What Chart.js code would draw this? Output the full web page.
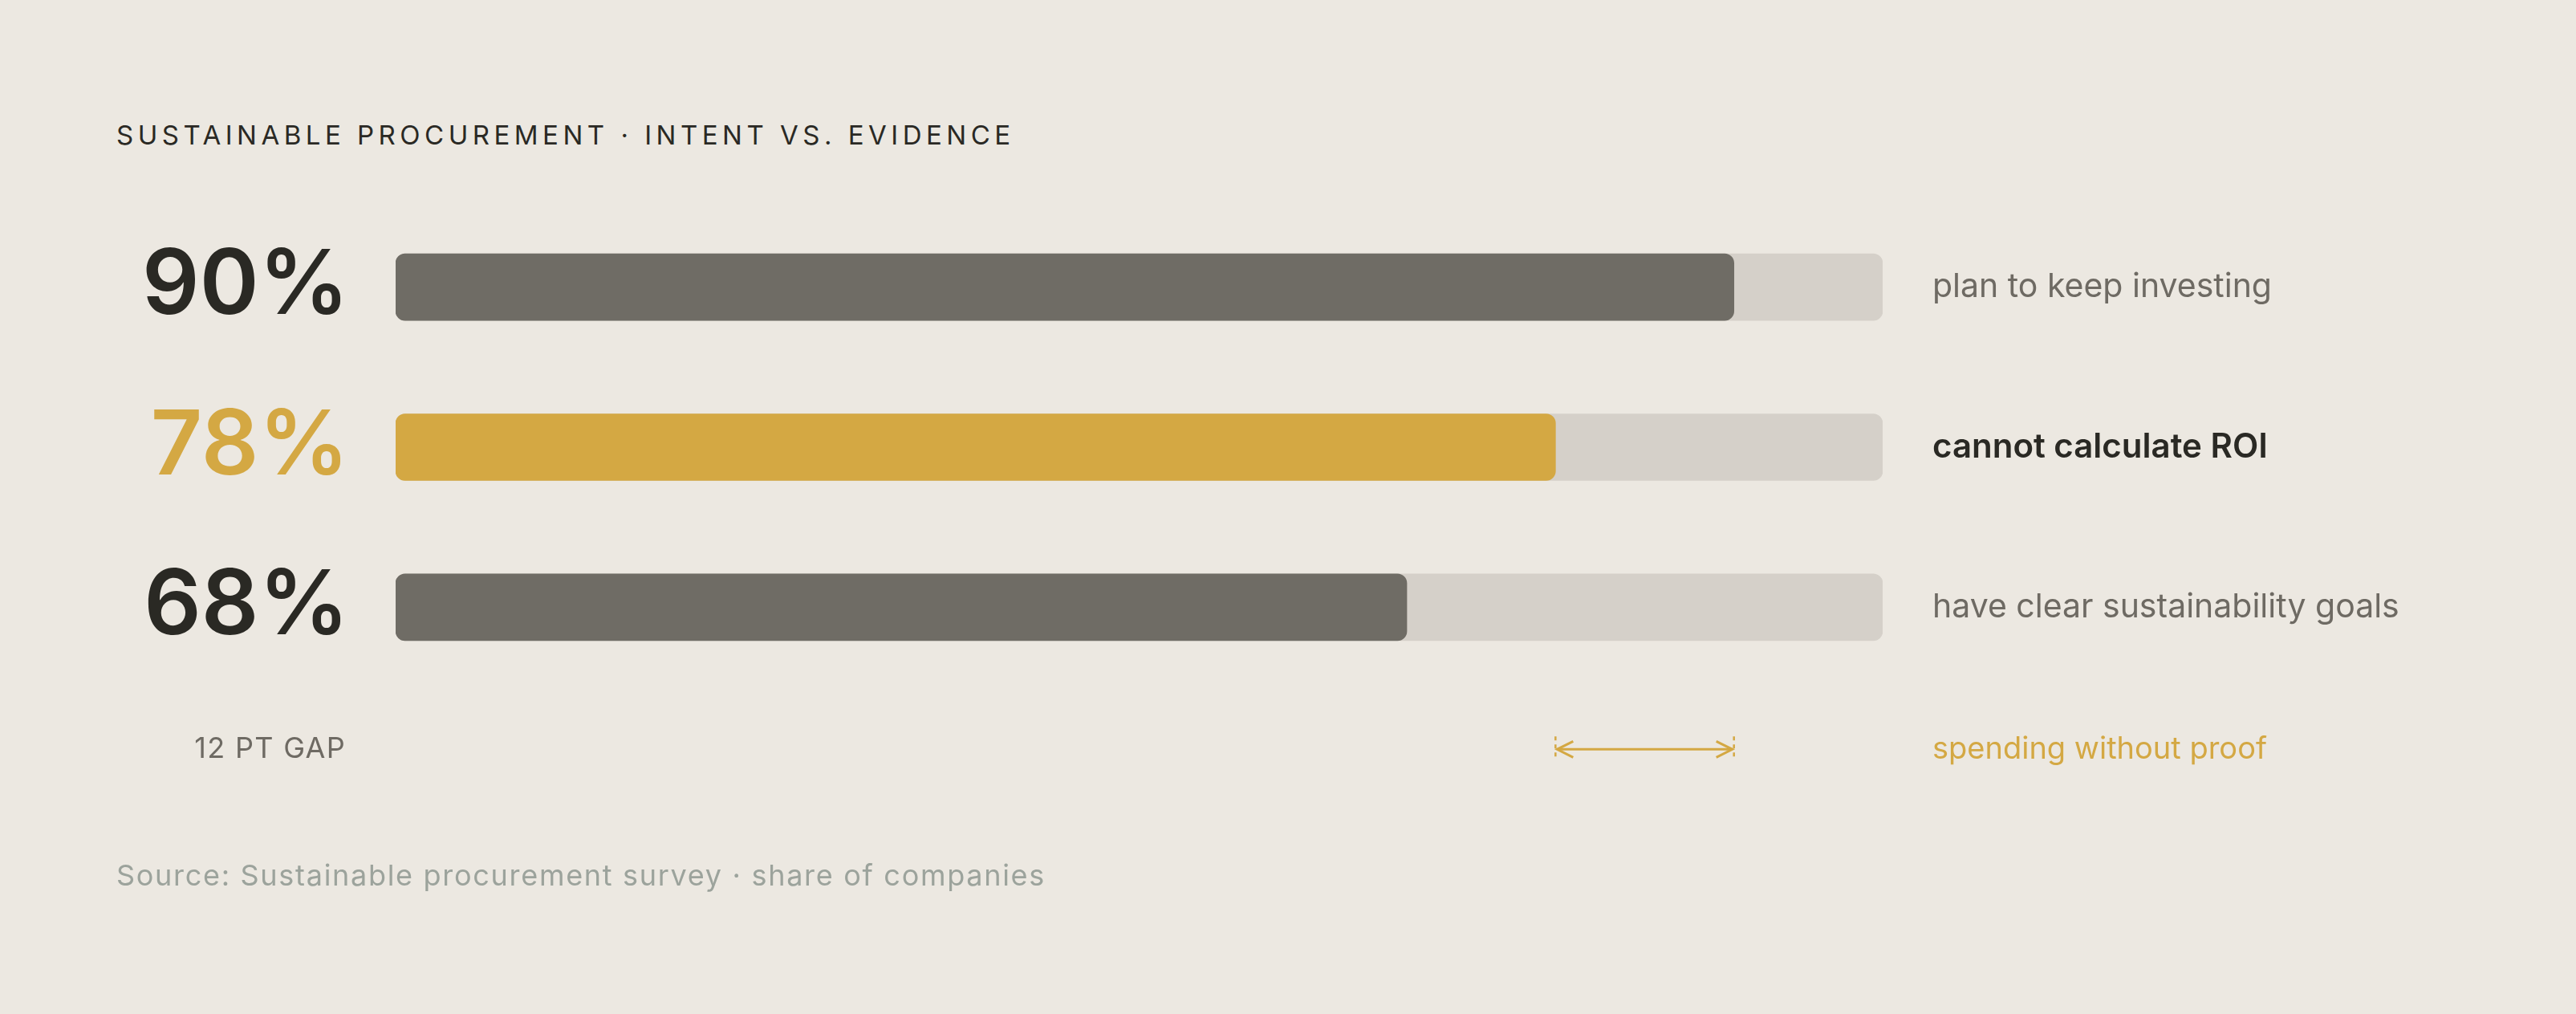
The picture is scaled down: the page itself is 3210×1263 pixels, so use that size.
<!DOCTYPE html>
<html>
<head>
<meta charset="utf-8">
<script src="https://cdn.jsdelivr.net/npm/chart.js@4.4.1/dist/chart.umd.min.js"></script>
<style>
  html, body { margin: 0; padding: 0; background: #ece8e1; }
  body { width: 3210px; height: 1263px; position: relative; overflow: hidden; font-family: Inter, sans-serif; }
  #titulo { position: absolute; left: 145px; top: 152px; font-size: 33px; line-height: 33px; letter-spacing: 5.5px; color: #2a2924; white-space: nowrap; }
  #fonte { position: absolute; left: 145px; top: 1072px; font-size: 36px; line-height: 36px; letter-spacing: 1.7px; color: #9ca39c; white-space: nowrap; }
  #caixa { position: absolute; left: 0; top: 0; width: 3210px; height: 1263px; }
</style>
</head>
<body>
<div id="titulo">SUSTAINABLE PROCUREMENT · INTENT VS. EVIDENCE</div>
<div id="caixa"><canvas id="grafico"></canvas></div>
<div id="fonte">Source: Sustainable procurement survey · share of companies</div>
<script>
const categorias = ['plan to keep investing', 'cannot calculate ROI', 'have clear sustainability goals'];
const percentuais = [90, 78, 68];
const trilho = [100, 100, 100];
const destaque = 1;
const notaGap = 'spending without proof';

const corEscura = '#6f6c65';
const corOuro = '#d4a843';
const corTrilho = '#d5d0c9';
const corTexto = '#2a2924';
const corCinza = '#6e6a63';

// anotação do gap entre a barra 1 e a barra destacada
const gapPlugin = {
  id: 'gap',
  afterDraw(chart) {
    const { ctx, chartArea, scales } = chart;
    const x = scales.x, y = scales.y;
    const xa = x.getPixelForValue(percentuais[destaque]);
    const xb = x.getPixelForValue(percentuais[0]);
    const yy = y.getPixelForValue(categorias.length - 1) + 177;
    const gap = percentuais[0] - percentuais[destaque];

    ctx.save();
    ctx.strokeStyle = corOuro;
    ctx.lineWidth = 2.5;
    ctx.setLineDash([5, 5]);
    [xa, xb].forEach(px => {
      ctx.beginPath();
      ctx.moveTo(px, yy - 16);
      ctx.lineTo(px, yy + 13);
      ctx.stroke();
    });
    ctx.setLineDash([]);
    ctx.lineWidth = 3;
    ctx.beginPath();
    ctx.moveTo(xa + 2, yy);
    ctx.lineTo(xb - 2, yy);
    ctx.stroke();
    ctx.beginPath();
    ctx.moveTo(xa + 22, yy - 10); ctx.lineTo(xa + 2, yy); ctx.lineTo(xa + 22, yy + 10);
    ctx.moveTo(xb - 22, yy - 10); ctx.lineTo(xb - 2, yy); ctx.lineTo(xb - 22, yy + 10);
    ctx.stroke();

    ctx.textBaseline = 'middle';
    ctx.font = '400 36px Inter';
    ctx.letterSpacing = '1.3px';
    ctx.fillStyle = corCinza;
    ctx.textAlign = 'right';
    ctx.fillText(gap + ' PT GAP', chartArea.left - 62, yy);
    ctx.letterSpacing = '0px';
    ctx.font = '400 38px Inter';
    ctx.fillStyle = corOuro;
    ctx.textAlign = 'left';
    ctx.fillText(notaGap, chartArea.right + 62, yy);
    ctx.restore();
  }
};

new Chart(document.getElementById('grafico'), {
  type: 'bar',
  data: {
    labels: categorias,
    datasets: [
      {
        data: percentuais,
        backgroundColor: percentuais.map((v, i) => i === destaque ? corOuro : corEscura),
        barThickness: 83,
        borderRadius: 12,
        borderSkipped: false,
        grouped: false,
        order: 0
      },
      {
        data: trilho,
        backgroundColor: corTrilho,
        barThickness: 83,
        borderRadius: 12,
        borderSkipped: false,
        grouped: false,
        order: 1
      }
    ]
  },
  options: {
    indexAxis: 'y',
    responsive: true,
    maintainAspectRatio: false,
    animation: false,
    layout: { padding: { top: 258, bottom: 407, left: 0, right: 0 } },
    plugins: { legend: { display: false }, tooltip: { enabled: false } },
    scales: {
      x: { min: 0, max: 100, display: false },
      y: {
        position: 'left',
        grid: { display: false, drawTicks: false },
        border: { display: false },
        ticks: {
          autoSkip: false,
          padding: 58,
          color: ctx => ctx.index === destaque ? corOuro : corTexto,
          font: { family: 'Inter', size: 112, weight: '600' },
          callback: (v, i) => percentuais[i] + '%'
        },
        afterFit: s => { s.width = 493; }
      },
      y2: {
        type: 'category',
        labels: categorias,
        position: 'right',
        offset: true,
        grid: { display: false, drawTicks: false },
        border: { display: false },
        ticks: {
          autoSkip: false,
          padding: 62,
          color: ctx => ctx.index === destaque ? corTexto : corCinza,
          font: ctx => ctx.index === destaque
            ? { family: 'Inter', size: 42, weight: '600' }
            : { family: 'Inter', size: 41, weight: '400' }
        },
        afterFit: s => { s.width = 864; }
      }
    }
  },
  plugins: [gapPlugin]
});
</script>
</body>
</html>
